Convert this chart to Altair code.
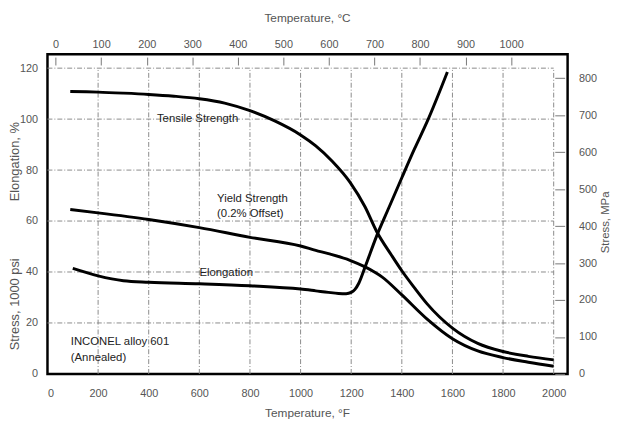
import altair as alt
import pandas as pd

# ---- data ----
tensile_F = [90, 200, 300, 400, 500, 600, 700, 800, 900, 1000, 1060, 1125, 1195, 1255, 1300, 1360, 1400, 1450, 1500, 1600, 1700, 1800, 1900, 2000]
tensile_ksi = [110.8, 110.6, 110.2, 109.7, 109.0, 108.0, 106.3, 103.3, 99.2, 93.8, 89.5, 83.5, 75.3, 65.5, 56.0, 46.5, 40.5, 33.8, 27.5, 18.0, 12.0, 8.8, 6.9, 5.5]

yield_F = [90, 200, 400, 600, 800, 1000, 1060, 1110, 1195, 1255, 1295, 1320, 1400, 1500, 1600, 1700, 1800, 1900, 2000]
yield_ksi = [64.5, 63.2, 60.6, 57.4, 53.6, 50.2, 48.5, 47.2, 44.6, 42.0, 39.8, 38.2, 31.0, 21.5, 13.8, 9.0, 6.4, 4.6, 3.0]

elong_F = [100, 200, 300, 400, 600, 800, 1000, 1060, 1110, 1150, 1180, 1200, 1215, 1230, 1255, 1300, 1350, 1400, 1450, 1500, 1580]
elong_pct = [41.4, 38.5, 36.6, 36.0, 35.4, 34.6, 33.3, 32.6, 32.0, 31.6, 31.5, 32.0, 33.2, 35.6, 42.0, 54.0, 65.5, 77.0, 88.3, 99.0, 118.5]

label_text = ["Tensile Strength", "Yield Strength", "(0.2% Offset)", "Elongation", "INCONEL alloy 601", "(Annealed)"]
label_F = [593, 670, 670, 706, 92, 92]
label_y = [100, 68.5, 62.7, 39.6, 12.6, 6.2]
label_align = ["center", "left", "left", "center", "left", "left"]

f_ticks = list(range(0, 2001, 200))
ksi_ticks = list(range(0, 121, 20))
c_ticks = list(range(0, 1001, 100))
mpa_ticks = list(range(0, 801, 100))

F_MAX = 2055
KSI_MAX = 125.5

# ---- tables ----
rows = []
for name, xs_, ys_ in [("Tensile", tensile_F, tensile_ksi), ("Yield", yield_F, yield_ksi), ("Elongation", elong_F, elong_pct)]:
    for a, b in zip(xs_, ys_):
        rows.append({"series": name, "F": a, "ksi": b})
curves = pd.DataFrame(rows)

gridv = pd.DataFrame({"F": f_ticks[1:], "ksi": [0] * (len(f_ticks) - 1), "ksi2": [120] * (len(f_ticks) - 1)})
gridh = pd.DataFrame({"ksi": ksi_ticks[1:], "F": [0] * (len(ksi_ticks) - 1), "F2": [2000] * (len(ksi_ticks) - 1)})
labels = pd.DataFrame({"text": label_text, "F": label_F, "ksi": label_y, "align": label_align})

FONT = "Liberation Sans"
GRAY = "#555555"

xs = alt.Scale(domain=[0, F_MAX], nice=False, zero=False)
ys = alt.Scale(domain=[0, KSI_MAX], nice=False, zero=False)

x_axis = alt.Axis(orient="bottom", values=f_ticks, format="d", grid=False, domain=False, ticks=False,
                  labelFont=FONT, labelFontSize=11, labelColor=GRAY, labelPadding=14,
                  title="Temperature, °F", titleFont=FONT, titleFontSize=12, titleFontWeight="normal",
                  titleColor=GRAY, titleX=263, titleY=39, titleAlign="center", titleBaseline="middle")
left_title = "Stress, 1000 psi" + "\u00a0" * 16 + "Elongation, %"
y_axis = alt.Axis(orient="left", values=ksi_ticks, format="d", grid=False, domain=False, ticks=False,
                  labelFont=FONT, labelFontSize=11, labelColor=GRAY, labelPadding=10,
                  title=left_title, titleFont=FONT, titleFontSize=13, titleFontWeight="normal",
                  titleColor=GRAY, titleX=-33, titleY=184, titleAngle=270, titleAlign="center",
                  titleBaseline="middle")

X = lambda f: alt.X(f, type="quantitative", scale=xs, axis=x_axis)
Y = lambda f: alt.Y(f, type="quantitative", scale=ys, axis=y_axis)

dash = [5, 2, 1, 2]
gv = alt.Chart(gridv).mark_rule(color="#8a8a8a", strokeWidth=1, strokeDash=dash).encode(
    x=X("F"), y=Y("ksi"), y2="ksi2")
gh = alt.Chart(gridh).mark_rule(color="#8a8a8a", strokeWidth=1, strokeDash=dash).encode(
    y=Y("ksi"), x=X("F"), x2="F2")

lines = alt.Chart(curves).mark_line(color="black", strokeWidth=3, interpolate="monotone").encode(
    x=X("F"), y=Y("ksi"), detail="series:N")

txt_c = alt.Chart(labels[labels["align"] == "center"]).mark_text(
    font=FONT, fontSize=11.5, color="#222222", align="center", baseline="middle").encode(
    x=X("F"), y=Y("ksi"), text="text:N")
txt_l = alt.Chart(labels[labels["align"] == "left"]).mark_text(
    font=FONT, fontSize=11.5, color="#222222", align="left", baseline="middle").encode(
    x=X("F"), y=Y("ksi"), text="text:N")

main = alt.layer(gv, gh, lines, txt_c, txt_l)

# secondary axes: °C on top, MPa on right
c_min = (0 - 32) / 1.8
c_max = (F_MAX - 32) / 1.8
mpa_max = KSI_MAX * 6.894757
sec = pd.DataFrame({"C": [c_min, c_max], "MPa": [0, mpa_max]})
top_axis = alt.Axis(orient="top", values=c_ticks, format="d", grid=False, domain=False, ticks=True,
                    tickSize=8, tickColor="#777777", offset=-11,
                    labelFont=FONT, labelFontSize=11, labelColor=GRAY, labelPadding=8,
                    title="Temperature, °C", titleFont=FONT, titleFontSize=12, titleFontWeight="normal",
                    titleColor=GRAY, titleX=263, titleY=-48, titleAlign="center", titleBaseline="middle")
right_axis = alt.Axis(orient="right", values=mpa_ticks, format="d", grid=False, domain=False, ticks=True,
                      tickSize=10, tickColor="#777777", offset=-13,
                      labelFont=FONT, labelFontSize=11, labelColor=GRAY, labelPadding=14,
                      title="Stress, MPa", titleFont=FONT, titleFontSize=11.5, titleFontWeight="normal",
                      titleColor=GRAY, titleAngle=270, titleX=51, titleY=170, titleAlign="center",
                      titleBaseline="middle")
secondary = alt.Chart(sec).mark_point(opacity=0).encode(
    x=alt.X("C:Q", scale=alt.Scale(domain=[c_min, c_max], nice=False, zero=False), axis=top_axis),
    y=alt.Y("MPa:Q", scale=alt.Scale(domain=[0, mpa_max], nice=False, zero=False), axis=right_axis))

chart = alt.layer(main, secondary).resolve_scale(x="independent", y="independent").properties(
    width=527, height=324,
    autosize=alt.AutoSizeParams(type="none"),
    padding={"left": 40, "top": 44, "right": 46, "bottom": 49},
    background="white",
).configure_view(stroke="black", strokeWidth=2.5)

chart.save("out.html", embed_options={"renderer": "svg", "actions": False})
